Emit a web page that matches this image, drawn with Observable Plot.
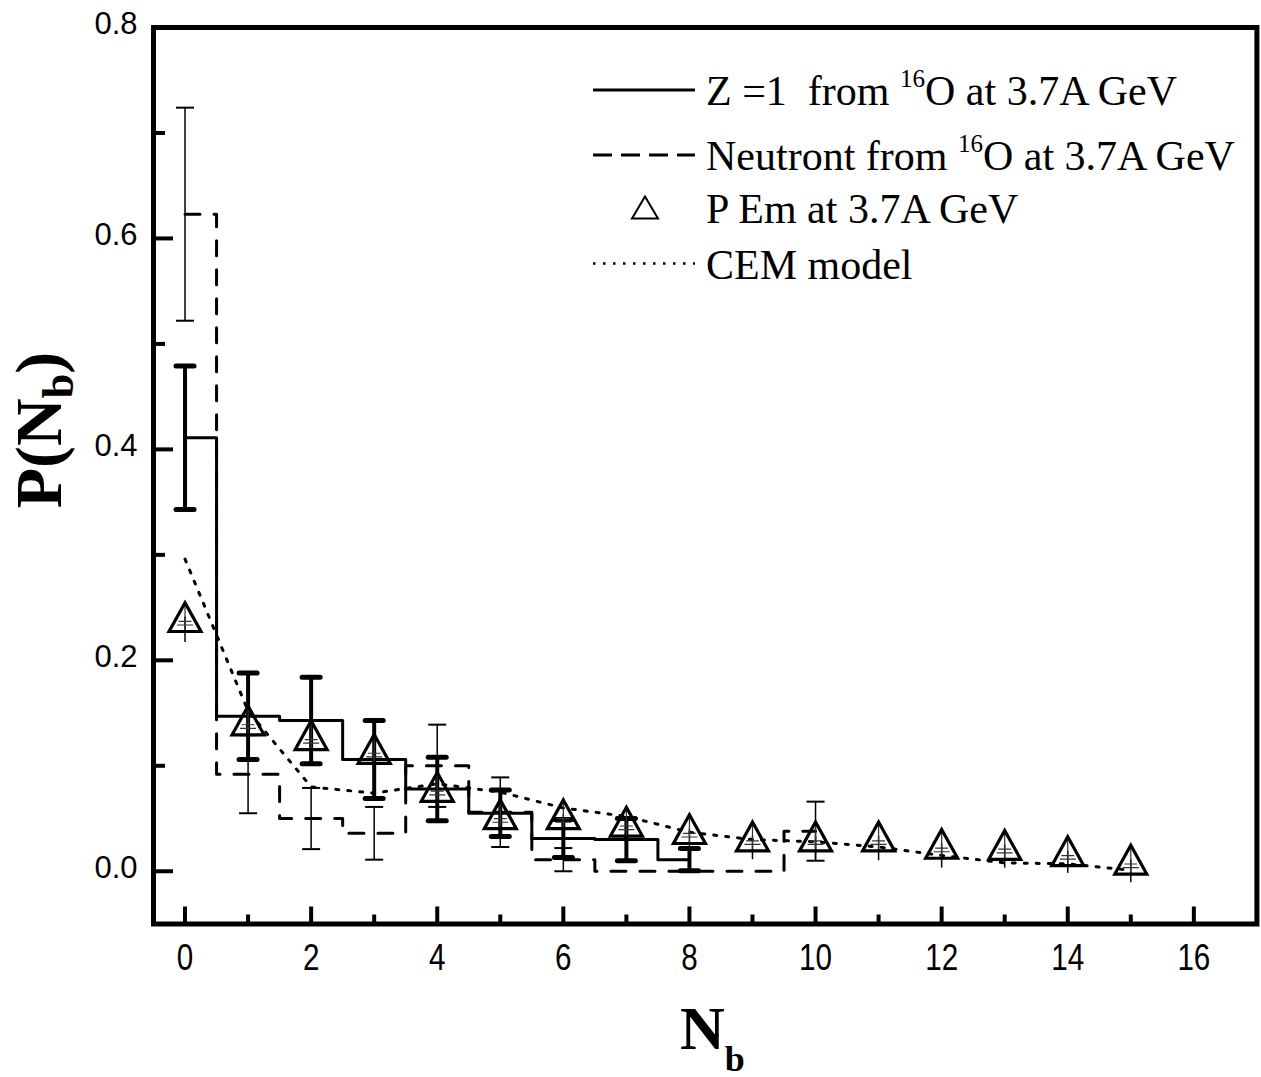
<!DOCTYPE html>
<html><head><meta charset="utf-8">
<script src="https://cdn.jsdelivr.net/npm/d3@7"></script>
<script src="https://cdn.jsdelivr.net/npm/@observablehq/plot@0.6"></script>
<style>body{margin:0;background:#fff}</style>
</head><body><div id="chart"></div>
<script>
// ---------- data ----------
const emN   = [0, 1, 2, 3, 4, 5, 6, 7, 8, 9, 10, 11, 12, 13, 14, 15];
const emP   = [0.241, 0.143, 0.129, 0.116, 0.080, 0.054, 0.054, 0.047, 0.040, 0.033, 0.033, 0.033, 0.026, 0.025, 0.019, 0.011];
const emErr = [0.024, 0.022, 0.022, 0.022, 0.021, 0.022, 0.022, 0.021, 0.022, 0.022, 0.022, 0.023, 0.023, 0.022, 0.021, 0.022];

const cemN = [0, 1, 2, 3, 4, 5, 6, 7, 8, 9, 10, 11, 12, 13, 14, 15];
const cemP = [0.296, 0.152, 0.080, 0.074, 0.083, 0.075, 0.060, 0.052, 0.037, 0.030, 0.028, 0.023, 0.015, 0.008, 0.007, 0.001];

const z1N   = [0, 1, 2, 3, 4, 5, 6, 7, 8];
const z1P   = [0.411, 0.147, 0.143, 0.106, 0.078, 0.055, 0.031, 0.030, 0.011];
const z1Err = [0.068, 0.041, 0.041, 0.037, 0.030, 0.022, 0.018, 0.020, 0.0105];

const neuN   = [0, 1, 2, 3, 4, 5, 6, 7, 8, 9, 10];
const neuP   = [0.623, 0.092, 0.050, 0.036, 0.100, 0.056, 0.011, 0, 0, 0, 0.038];
const neuErr = [0.101, 0.037, 0.029, 0.025, 0.039, 0.033, 0.011, 0, 0, 0, 0.028];

const xMajor = [0, 2, 4, 6, 8, 10, 12, 14, 16];
const xMinor = [1, 3, 5, 7, 9, 11, 13, 15];
const yMajor = [0, 0.2, 0.4, 0.6, 0.8];
const yMinor = [0.1, 0.3, 0.5, 0.7];

const legendLabels = [
  ["Z =1 ", " from ", "16", "O at 3.7A GeV"],
  ["Neutront from ", "", "16", "O at 3.7A GeV"],
  ["P Em at 3.7A GeV"],
  ["CEM model"]
];
const xTitle = ["N", "b"];
const yTitle = ["P(N", "b", ")"];

// ---------- tables ----------
const em  = emN.map((n, i) => ({n, p: emP[i], e: emErr[i]}));
const cem = cemN.map((n, i) => ({n, p: cemP[i]}));
const z1  = z1N.map((n, i) => ({n, p: z1P[i], e: z1Err[i]}));
const neu = neuN.map((n, i) => ({n, p: neuP[i], e: neuErr[i]}));
const neuE = neu.filter(d => d.e > 0);

const SANS = "'Liberation Sans', Arial, sans-serif";
const SERIF = "'Liberation Serif', 'Times New Roman', serif";

// custom symbols
const capSymbol = {draw(ctx, size) { const r = Math.sqrt(size / Math.PI); ctx.moveTo(-r, 0); ctx.lineTo(r, 0); }};
const triSymbol = {draw(ctx, size) { const r = Math.sqrt(size / Math.PI), h = r * 0.9;
  ctx.moveTo(0, -h); ctx.lineTo(r, h); ctx.lineTo(-r, h); ctx.closePath(); }};
const triInner = {draw(ctx, size) { const r = Math.sqrt(size / Math.PI), h = r * 0.9;
  ctx.moveTo(0, -h); ctx.lineTo(0, h);
  ctx.moveTo(-r * 0.4, h * 0.3); ctx.lineTo(r * 0.4, h * 0.3);
  ctx.moveTo(-r * 0.5, h * 0.55); ctx.lineTo(r * 0.5, h * 0.55); }};

const blank = () => "";

const chart = Plot.plot({
  width: 1261,
  height: 1077,
  marginLeft: 153,
  marginRight: 4.6,
  marginTop: 27,
  marginBottom: 153.5,
  style: {background: "white", color: "black", overflow: "visible"},
  x: {domain: [-0.5, 17]},
  y: {domain: [-0.05, 0.8]},
  marks: [
    // series lines
    Plot.line(cem, {x: "n", y: "p", stroke: "black", strokeWidth: 3, strokeDasharray: "3,9"}),
    Plot.line(neu, {x: "n", y: "p", curve: "step", stroke: "black", strokeWidth: 3, strokeDasharray: "15,14"}),
    Plot.line(z1, {x: "n", y: "p", curve: "step", stroke: "black", strokeWidth: 3}),
    // neutron error bars (thin)
    Plot.ruleX(neuE, {x: "n", y1: d => d.p - d.e, y2: d => d.p + d.e, stroke: "black", strokeWidth: 1.5}),
    Plot.dot(neuE, {x: "n", y: d => d.p + d.e, symbol: capSymbol, r: 9, fill: "none", stroke: "black", strokeWidth: 2}),
    Plot.dot(neuE, {x: "n", y: d => d.p - d.e, symbol: capSymbol, r: 9, fill: "none", stroke: "black", strokeWidth: 2}),
    // Z=1 error bars (thick)
    Plot.ruleX(z1, {x: "n", y1: d => d.p - d.e, y2: d => d.p + d.e, stroke: "black", strokeWidth: 4}),
    Plot.dot(z1, {x: "n", y: d => d.p + d.e, symbol: capSymbol, r: 9, fill: "none", stroke: "black", strokeWidth: 5, strokeLinecap: "round"}),
    Plot.dot(z1, {x: "n", y: d => d.p - d.e, symbol: capSymbol, r: 9, fill: "none", stroke: "black", strokeWidth: 5, strokeLinecap: "round"}),
    // emulsion points
    Plot.ruleX(em, {x: "n", y1: d => d.p - d.e, y2: "p", stroke: "black", strokeWidth: 1.5}),
    Plot.dot(em, {x: "n", y: "p", symbol: triInner, r: 16, fill: "none", stroke: "#333", strokeWidth: 1.2}),
    Plot.dot(em, {x: "n", y: "p", symbol: triSymbol, r: 16, fill: "none", stroke: "black", strokeWidth: 3.2, strokeLinejoin: "miter"}),
    // axes
    Plot.axisY({ticks: yMajor, tickSize: 0, tickPadding: 16, tickFormat: d3.format(".1f"), fontSize: 31, fontFamily: SANS, label: null, dy: -3}),
    Plot.axisY({ticks: yMajor, tickSize: 20, dx: 20, tickFormat: blank, label: null, strokeWidth: 4}),
    Plot.axisY({ticks: yMinor, tickSize: 12, dx: 12, tickFormat: blank, label: null, strokeWidth: 4}),
    Plot.axisX({ticks: xMajor, tickSize: 0, tickPadding: 20, fontSize: 37, fontFamily: SANS, label: null}),
    Plot.axisX({ticks: xMajor, tickSize: 17, dy: -17, tickFormat: blank, label: null, strokeWidth: 4}),
    Plot.axisX({ticks: xMinor, tickSize: 9, dy: -9, tickFormat: blank, label: null, strokeWidth: 4}),
    Plot.frame({stroke: "black", strokeWidth: 5})
  ]
});
document.getElementById("chart").appendChild(chart);

const svg = d3.select(chart);
// condensed look of the x tick labels
svg.selectAll("g[aria-label='x-axis tick label'] text").each(function() {
  const t = this.getAttribute("transform") || "";
  this.setAttribute("transform", t + " scale(0.8,1)");
});

// ---------- legend, axis titles ----------
const lg = svg.append("g").attr("font-family", SERIF).attr("font-size", 42).attr("fill", "black").attr("text-anchor", "start");
const rowY = [90, 155, 207.5, 263.5];
const sx0 = 593, sx1 = 695, tx = 706;
lg.append("line").attr("x1", sx0).attr("x2", sx1).attr("y1", rowY[0]).attr("y2", rowY[0]).attr("stroke", "black").attr("stroke-width", 3);
lg.append("line").attr("x1", sx0).attr("x2", sx1).attr("y1", rowY[1]).attr("y2", rowY[1]).attr("stroke", "black").attr("stroke-width", 3).attr("stroke-dasharray", "19,9");
lg.append("path").attr("d", d3.line()([[645, rowY[2] - 11], [658, rowY[2] + 11], [632, rowY[2] + 11]]) + "Z").attr("fill", "none").attr("stroke", "black").attr("stroke-width", 2);
lg.append("line").attr("x1", sx0).attr("x2", sx1).attr("y1", rowY[3]).attr("y2", rowY[3]).attr("stroke", "black").attr("stroke-width", 2.5).attr("stroke-dasharray", "2.5,7.5");

legendLabels.forEach((parts, i) => {
  const t = lg.append("text").attr("x", tx).attr("y", rowY[i] + 15).style("white-space", "pre");
  if (parts.length === 1) { t.text(parts[0]); return; }
  t.append("tspan").text(parts[0]);
  if (parts[1]) t.append("tspan").text(parts[1]);
  t.append("tspan").attr("font-size", 25).attr("dy", -18).text(parts[2]);
  t.append("tspan").attr("dy", 18).text(parts[3]);
});

// y title
const yt = svg.append("text").attr("transform", "translate(61,430) rotate(-90)")
  .attr("text-anchor", "middle").attr("font-family", SERIF).attr("font-weight", "bold").attr("font-size", 66).attr("fill", "black");
yt.append("tspan").text(yTitle[0]);
yt.append("tspan").attr("font-size", 44).attr("dy", 12).text(yTitle[1]);
yt.append("tspan").attr("dy", -12).text(yTitle[2]);

// x title
const xt = svg.append("text").attr("x", 680).attr("y", 1049).attr("text-anchor", "start")
  .attr("font-family", SERIF).attr("font-weight", "bold").attr("font-size", 62).attr("fill", "black");
xt.append("tspan").text(xTitle[0]);
xt.append("tspan").attr("font-size", 36).attr("dx", 0).attr("dy", 22).text(xTitle[1]);
</script>
</body></html>
